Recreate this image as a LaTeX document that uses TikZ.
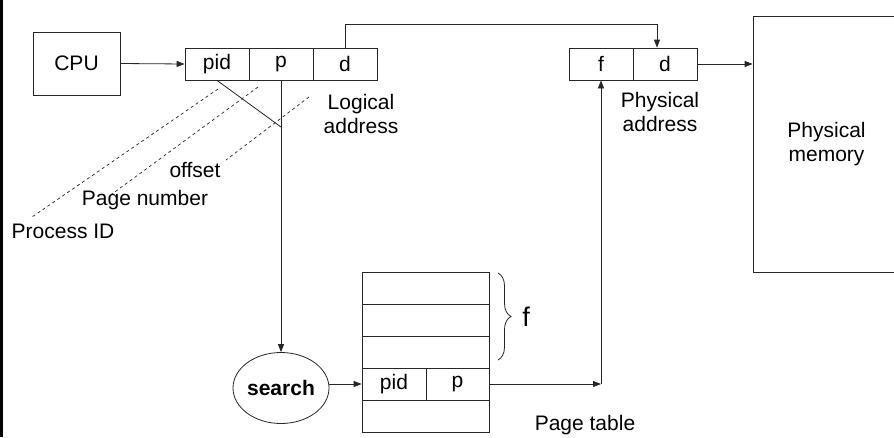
\documentclass[tikz,border=0pt]{standalone}
\usepackage{fontspec}
\setmainfont{Liberation Sans}
\usetikzlibrary{arrows.meta,shapes.geometric,decorations.pathreplacing}
\begin{document}
\begin{tikzpicture}[x=1pt,y=-1pt,
  every node/.style={font=\fontsize{21}{24}\selectfont},
  ln/.style={draw=black!85,line width=0.8pt},
  arr/.style={ln,-{Triangle[length=8pt,width=6pt]}},
  cell/.style={ln,rectangle,inner sep=0pt,minimum width=64pt,minimum height=32pt},
  row/.style={ln,rectangle,inner sep=0pt,minimum width=127pt,minimum height=32pt},
  lbl/.style={inner sep=0pt,align=center},
  lead/.style={draw=black!85,line width=0.7pt,dash pattern=on 3pt off 3pt}]
\useasboundingbox (0,0) rectangle (894,437);
\fill[white] (0,0) rectangle (894,437);
% left frame edge
\draw[line width=3pt] (1.5,0) -- (1.5,437);

% CPU and logical address
\node[ln,rectangle,minimum width=87pt,minimum height=63pt] (cpu) at (76.5,63.5) {CPU};
\node[cell] (lpid) at (217,64) {pid};
\node[cell] (lp) at (281,64) {p};
\node[cell] (ld) at (345,64) {d};
\node[lbl] (lalbl) at (361,114) {Logical\\address};

% physical address and memory
\node[cell] (ff) at (601,64) {f};
\node[cell] (fd) at (665,64) {d};
\node[lbl] (palbl) at (660,112) {Physical\\address};
\node[ln,rectangle,minimum width=147pt,minimum height=256pt,align=center] (mem) at (826.5,144) {Physical\\memory};

% page table
\node[row] (r1) at (425.5,288) {};
\node[row] (r2) at (425.5,320) {};
\node[row] (r3) at (425.5,352) {};
\node[cell] (tpid) at (394,384) {pid};
\node[cell,minimum width=63pt] (tp) at (457.5,384) {p};
\node[row] (r5) at (425.5,416) {};
\node[lbl] (ptlbl) at (585,425) {Page table};
\draw[ln,decorate,decoration={brace,amplitude=13pt}] (498,273) -- (498,360)
  node[midway,right=24pt,inner sep=0pt,font=\fontsize{27}{30}\selectfont] (flbl) {f};

% search
\node[ln,ellipse,inner sep=0pt,minimum width=96pt,minimum height=71pt,font=\bfseries\fontsize{21}{24}\selectfont] (search) at (281,388) {search};

% connectors
\coordinate (turn) at (657,24);
\coordinate (join) at (281,127);
\coordinate (up) at (601,384);
\draw[arr] (cpu.east) -- (lpid.west);
\draw[arr] (ld.north) |- (turn) -- (turn |- fd.north);
\draw[arr] (fd.east) -- (fd.east -| mem.west);
\draw[ln] (lpid.south) -- (join);
\draw[arr] (lp.south) -- (search.north);
\draw[arr] (search.east |- tpid.west) -- (tpid.west);
\draw[arr] (tp.east) -- (up);
\draw[arr] (up) -- (ff.south);

% field labels with dashed leaders
\node[lbl] (pidlbl) at (63,231) {Process ID};
\node[lbl] (pnlbl) at (145,200) {Page number};
\node[lbl] (offlbl) at (195,170) {offset};
\draw[lead] (218,89) -- (32,217);
\draw[lead] (258,87) -- (112,194);
\draw[lead] (309,97) -- (226,160);
\end{tikzpicture}
\end{document}
